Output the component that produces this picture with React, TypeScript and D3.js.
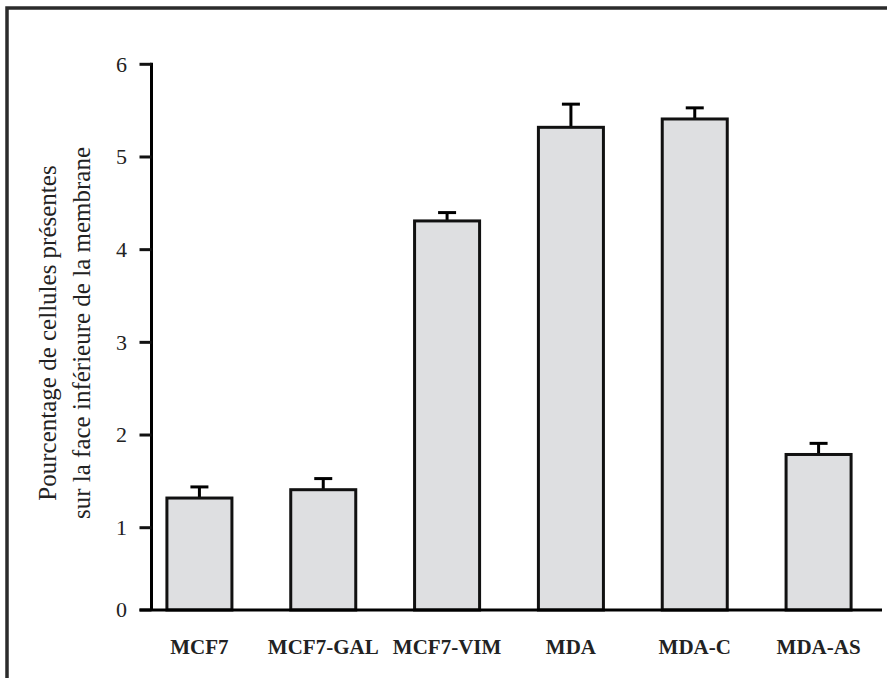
import React from "react";
import * as d3 from "d3";

const categories = ["MCF7", "MCF7-GAL", "MCF7-VIM", "MDA", "MDA-C", "MDA-AS"];
const values = [1.32, 1.41, 4.31, 5.32, 5.41, 1.79];
const errors = [0.12, 0.12, 0.09, 0.25, 0.12, 0.12];
const yTicks = [0, 1, 2, 3, 4, 5, 6];
const yLabelLines = ["Pourcentage de cellules présentes", "sur la face inférieure de la membrane"];

const W = 887;
const H = 678;

export default function App() {
  const x = d3
    .scaleBand<string>()
    .domain(categories)
    .range([137.5, 880.5])
    .paddingInner(0.475)
    .paddingOuter(0.2375);
  // the original axis has a compressed 0-1 segment
  const y = d3.scaleLinear().domain([0, 1, 6]).range([610, 527.7, 64.3]);

  const serif = "'Liberation Serif', 'Times New Roman', serif";
  const axisX = 151.5;

  return (
    <svg
      width={W}
      height={H}
      style={{ position: "absolute", left: 0, top: 0, background: "#fff" }}
    >
      {/* frame (only top and left visible) */}
      <path d={`M7,${H + 5} L7,8 L${W + 5},8`} fill="none" stroke="#2b2b2b" strokeWidth={3.5} />

      {/* bars */}
      {categories.map((c, i) => {
        const x0 = x(c)!;
        const bw = x.bandwidth();
        const cx = x0 + bw / 2;
        const top = y(values[i]);
        const cap = y(values[i] + errors[i]);
        return (
          <g key={c}>
            <line x1={cx} x2={cx} y1={top} y2={cap} stroke="#000" strokeWidth={3} />
            <line x1={cx - 9} x2={cx + 9} y1={cap} y2={cap} stroke="#000" strokeWidth={3} />
            <rect
              x={x0}
              y={top}
              width={bw}
              height={y(0) - top}
              fill="#dedfe1"
              stroke="#111"
              strokeWidth={3}
            />
          </g>
        );
      })}

      {/* y axis */}
      <line x1={axisX} x2={axisX} y1={y(6) - 1.5} y2={y(0)} stroke="#000" strokeWidth={3} />
      {yTicks.map((t) => (
        <g key={t}>
          <line x1={139.5} x2={axisX} y1={y(t)} y2={y(t)} stroke="#111" strokeWidth={3} />
          <text
            x={127}
            y={y(t)}
            dy="0.33em"
            textAnchor="end"
            fontFamily={serif}
            fontSize={22}
            fill="#222"
          >
            {t}
          </text>
        </g>
      ))}

      {/* x axis */}
      <line x1={139.5} x2={882} y1={y(0)} y2={y(0)} stroke="#000" strokeWidth={3} />
      {categories.map((c) => (
        <text
          key={c}
          x={x(c)! + x.bandwidth() / 2}
          y={654}
          textAnchor="middle"
          fontFamily={serif}
          fontWeight="bold"
          fontSize={21}
          fill="#222"
        >
          {c}
        </text>
      ))}

      {/* y label */}
      {yLabelLines.map((l, i) => (
        <text
          key={l}
          transform={`translate(${56 + i * 34},333) rotate(-90)`}
          textAnchor="middle"
          fontFamily={serif}
          fontSize={25}
          fill="#222"
        >
          {l}
        </text>
      ))}
    </svg>
  );
}
